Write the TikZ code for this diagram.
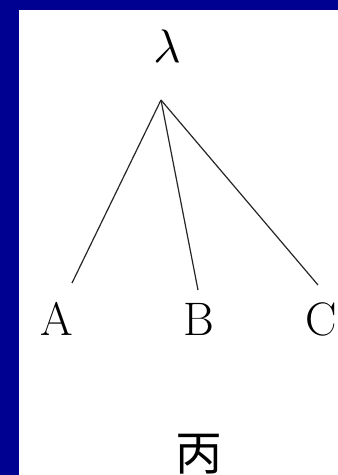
\documentclass[tikz,border=0pt]{standalone}
\usepackage{fontspec}
\newfontfamily\cjk{Noto Sans CJK SC}
\usepackage{tikz}
\usetikzlibrary{positioning}
\definecolor{slideblue}{RGB}{0,0,145}

\begin{document}
\begin{tikzpicture}[x=1pt,y=-1pt,
    lbl/.style={inner sep=0pt,font=\fontsize{47}{50}\selectfont},
    branch/.style={line width=1.2pt,black!85}]
              % slide frame
              \fill[slideblue] (0,0) rectangle (338,475);
              \fill[white] (19,10) rectangle (338,475);
              \useasboundingbox (0,0) rectangle (338,475);
              \clip (0,0) rectangle (338,475);
              % root and leaves
              \node[inner sep=0pt,scale=4.7] (lam) at (167,46) {$\lambda$};
              \node[lbl] (A) at (57,319) {A};
              \node[lbl] (B) at (199,319) {B};
              \node[lbl] (C) at (321,319) {C};
              \node[lbl,font=\fontsize{47}{50}\selectfont\cjk,anchor=base] (cap) at (199,470) {丙};
              % branch ends
              \coordinate (top) at (161,100);
              \coordinate (endA) at (72,283);
              \coordinate (endB) at (198,290);
              \coordinate (endC) at (318,285);
              \draw[branch] (top) -- (endA);
              \draw[branch] (top) -- (endB);
              \draw[branch] (top) -- (endC);
\end{tikzpicture}
\end{document}
